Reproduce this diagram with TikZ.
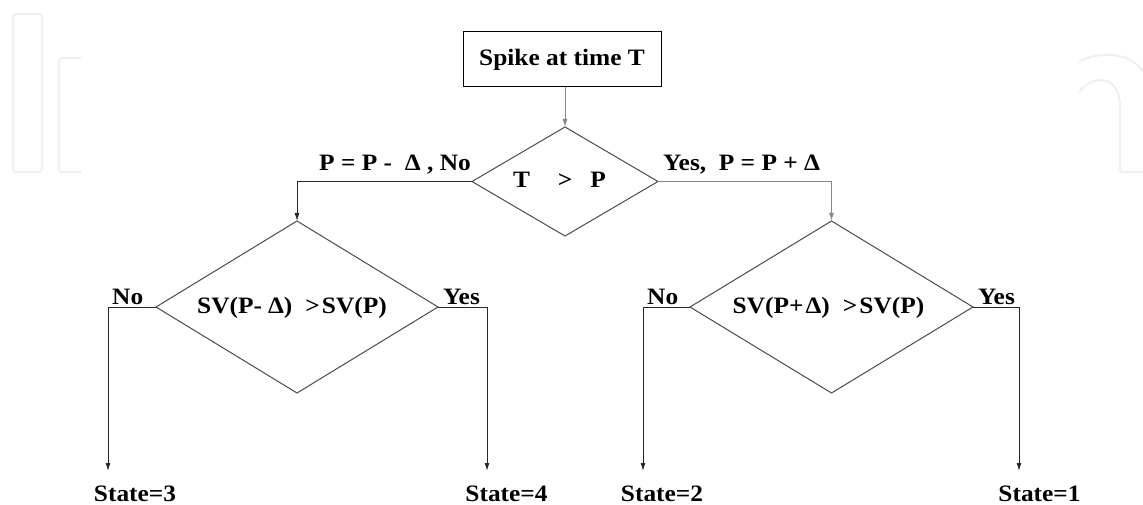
\documentclass[tikz,border=0pt]{standalone}
\usepackage{fontspec}
\setmainfont{Liberation Serif}
\newfontfamily\widefont[FakeStretch=1.08]{Liberation Serif}
\usetikzlibrary{shapes.geometric,arrows.meta}
\definecolor{wm}{RGB}{239,241,241}
\definecolor{lg}{RGB}{135,135,135}
\definecolor{dg}{RGB}{75,75,75}
\definecolor{ln}{RGB}{40,40,40}
\begin{document}
\begin{tikzpicture}[x=1pt,y=-1pt,
  txt/.style={font=\widefont\fontsize{23.5}{28}\selectfont\bfseries, inner sep=0pt},
  dec/.style={draw=dg, line width=1pt, shape=diamond, inner sep=0pt, outer sep=0pt},
  conn/.style={line width=1pt},
  arr/.style={conn,-{Latex[length=8pt,width=5pt]}},
  wmline/.style={draw=wm, line width=2.2pt, rounded corners=3pt}]
\useasboundingbox (0,0) rectangle (1143,505);
% faint watermark
\draw[wmline] (13,14) rectangle (42,172);
\draw[wmline] (81,58) -- (59,58) -- (59,172) -- (81,172);
\draw[wmline] (1079,62) .. controls (1095,52) and (1130,50) .. (1143,72);
\draw[wmline] (1079,92) .. controls (1090,76) and (1120,72) .. (1120,110) -- (1120,172) -- (1143,172);
% nodes
\node[draw, line width=1pt, minimum width=198pt, minimum height=55pt, inner sep=0pt, outer sep=0pt, txt] (start) at (562,59.5) {Spike at time T};
\node[dec, minimum width=186pt, minimum height=109pt] (d1) at (565,181.5) {};
\node[txt] (d1t) at (559.5,180) {T\hspace{28pt}>\hspace{18pt}P};
\node[dec, minimum width=282pt, minimum height=172pt] (d2) at (297,307) {};
\node[dec, minimum width=283pt, minimum height=172pt] (d3) at (831.5,307) {};
\node[txt, anchor=base] (d2t) at (292,313) {SV(P-\hspace{6pt}Δ)\hspace{13pt}>\hspace{2pt}SV(P)};
\node[txt, anchor=base] (d3t) at (828.5,313) {SV(P+\hspace{2pt}Δ)\hspace{13pt}>\hspace{2pt}SV(P)};
\node[txt, anchor=base east] (lno) at (471,171) {P = P -\ \ Δ , No};
\node[txt, anchor=base west] (ryes) at (663,171) {Yes,\ \ P = P +\ Δ};
\node[txt, anchor=base west] (d2no) at (112,304) {No};
\node[txt, anchor=base west] (d2yes) at (443,304) {Yes};
\node[txt, anchor=base west] (d3no) at (647,304) {No};
\node[txt, anchor=base west] (d3yes) at (978,304) {Yes};
\node[txt, anchor=base] (s3) at (135,501) {State=3};
\node[txt, anchor=base] (s4) at (506.5,501) {State=4};
\node[txt, anchor=base] (s2) at (662,501) {State=2};
\node[txt, anchor=base] (s1) at (1039.5,501) {State=1};
% arrow end points
\coordinate (a3) at (108,471);
\coordinate (a4) at (487,471);
\coordinate (a2) at (643,471);
\coordinate (a1) at (1019,471);
% connectors
\draw[arr, lg] (start.south -| d1.north) -- (d1.north);
\draw[arr, ln] (d1.west) -- (d2.north |- d1.west) -- (d2.north);
\draw[arr, lg] (d1.east) -- (d3.north |- d1.east) -- (d3.north);
\draw[arr, ln] (d2.west) -- (a3 |- d2.west) -- (a3);
\draw[arr, ln] (d2.east) -- (a4 |- d2.east) -- (a4);
\draw[arr, ln] (d3.west) -- (a2 |- d3.west) -- (a2);
\draw[arr, ln] (d3.east) -- (a1 |- d3.east) -- (a1);
\end{tikzpicture}
\end{document}
